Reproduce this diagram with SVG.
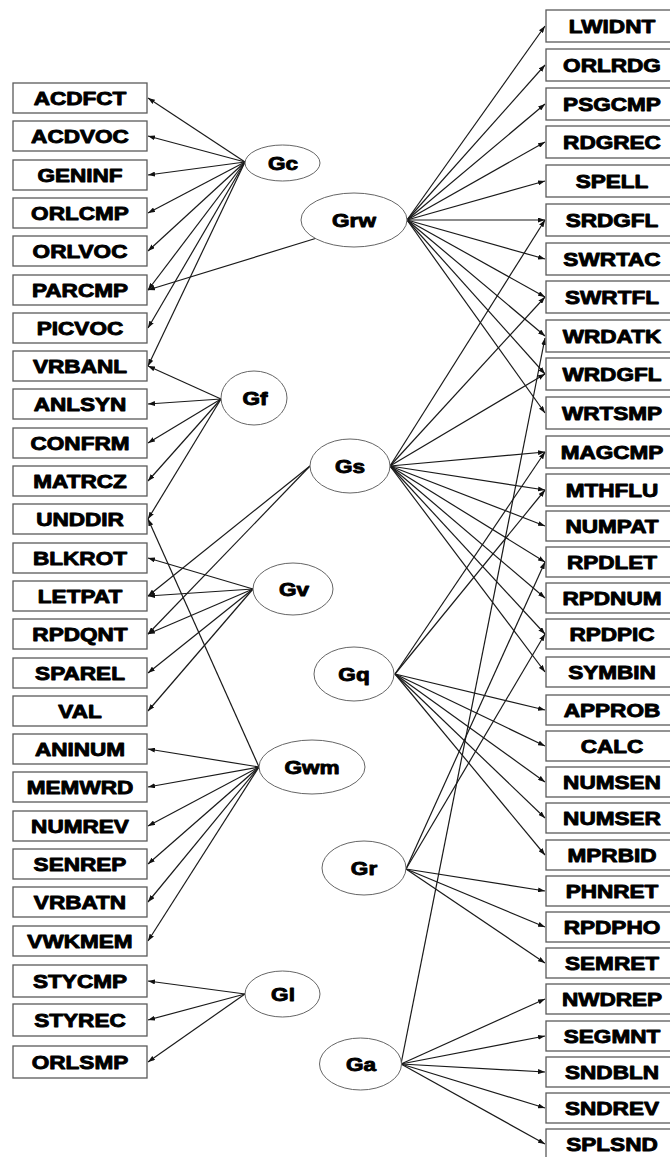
<svg xmlns="http://www.w3.org/2000/svg" width="670" height="1157" viewBox="0 0 670 1157">
<style>
.bx{fill:#fff;stroke:#5a5a5a;stroke-width:1.3}
.el{fill:#fff;stroke:#666;stroke-width:1}
.t{font-family:"Liberation Sans",Arial,sans-serif;font-weight:bold;font-size:18.5px;text-anchor:middle;fill:#000;stroke:#000;stroke-width:0.9;stroke-linejoin:round}
.c line{stroke:#1a1a1a;stroke-width:1.2;marker-end:url(#ah)}
</style>
<defs>
<marker id="ah" markerWidth="7" markerHeight="5" refX="7" refY="2.5" orient="auto" markerUnits="userSpaceOnUse"><path d="M0,0 L7,2.5 L0,5 z" fill="#111"/></marker>
</defs>
<rect width="670" height="1157" fill="#fff"/>
<g id="connectors" class="c">
<line x1="245" y1="162" x2="148" y2="98"/>
<line x1="245" y1="162" x2="148" y2="136"/>
<line x1="245" y1="162" x2="148" y2="175"/>
<line x1="245" y1="162" x2="148" y2="213"/>
<line x1="245" y1="162" x2="148" y2="251"/>
<line x1="245" y1="162" x2="148" y2="290"/>
<line x1="245" y1="162" x2="148" y2="328"/>
<line x1="245" y1="162" x2="148" y2="366"/>
<line x1="317" y1="238" x2="148" y2="290"/>
<line x1="221" y1="399" x2="148" y2="366"/>
<line x1="221" y1="399" x2="148" y2="404"/>
<line x1="221" y1="399" x2="148" y2="443"/>
<line x1="221" y1="399" x2="148" y2="481"/>
<line x1="221" y1="399" x2="148" y2="519"/>
<line x1="310" y1="466" x2="148" y2="596"/>
<line x1="310" y1="466" x2="148" y2="634"/>
<line x1="253" y1="589" x2="148" y2="558"/>
<line x1="253" y1="589" x2="148" y2="596"/>
<line x1="253" y1="589" x2="148" y2="634"/>
<line x1="253" y1="589" x2="148" y2="673"/>
<line x1="253" y1="589" x2="148" y2="711"/>
<line x1="259" y1="767" x2="148" y2="519"/>
<line x1="259" y1="767" x2="148" y2="749"/>
<line x1="259" y1="767" x2="148" y2="787"/>
<line x1="259" y1="767" x2="148" y2="826"/>
<line x1="259" y1="767" x2="148" y2="864"/>
<line x1="259" y1="767" x2="148" y2="902"/>
<line x1="259" y1="767" x2="148" y2="941"/>
<line x1="245" y1="994" x2="148" y2="981"/>
<line x1="245" y1="994" x2="148" y2="1020"/>
<line x1="245" y1="994" x2="148" y2="1062"/>
<line x1="407" y1="220" x2="545" y2="26"/>
<line x1="407" y1="220" x2="545" y2="65"/>
<line x1="407" y1="220" x2="545" y2="104"/>
<line x1="407" y1="220" x2="545" y2="142"/>
<line x1="407" y1="220" x2="545" y2="181"/>
<line x1="407" y1="220" x2="545" y2="220"/>
<line x1="407" y1="220" x2="545" y2="259"/>
<line x1="407" y1="220" x2="545" y2="297"/>
<line x1="407" y1="220" x2="545" y2="336"/>
<line x1="407" y1="220" x2="545" y2="374"/>
<line x1="407" y1="220" x2="545" y2="413"/>
<line x1="390" y1="466" x2="545" y2="220"/>
<line x1="390" y1="466" x2="545" y2="297"/>
<line x1="390" y1="466" x2="545" y2="374"/>
<line x1="390" y1="466" x2="545" y2="452"/>
<line x1="390" y1="466" x2="545" y2="490"/>
<line x1="390" y1="466" x2="545" y2="526"/>
<line x1="390" y1="466" x2="545" y2="562"/>
<line x1="390" y1="466" x2="545" y2="598"/>
<line x1="390" y1="466" x2="545" y2="634"/>
<line x1="390" y1="466" x2="545" y2="672"/>
<line x1="395" y1="674" x2="545" y2="452"/>
<line x1="395" y1="674" x2="545" y2="490"/>
<line x1="395" y1="674" x2="545" y2="710"/>
<line x1="395" y1="674" x2="545" y2="746"/>
<line x1="395" y1="674" x2="545" y2="782"/>
<line x1="395" y1="674" x2="545" y2="818"/>
<line x1="395" y1="674" x2="545" y2="855"/>
<line x1="406" y1="869" x2="545" y2="562"/>
<line x1="406" y1="869" x2="545" y2="634"/>
<line x1="406" y1="869" x2="545" y2="891"/>
<line x1="406" y1="869" x2="545" y2="927"/>
<line x1="406" y1="869" x2="545" y2="963"/>
<line x1="401" y1="1064" x2="545" y2="338"/>
<line x1="401" y1="1064" x2="545" y2="999"/>
<line x1="401" y1="1064" x2="545" y2="1036"/>
<line x1="401" y1="1064" x2="545" y2="1072"/>
<line x1="401" y1="1064" x2="545" y2="1108"/>
<line x1="401" y1="1064" x2="545" y2="1144"/>
</g>
<g id="n-ACDFCT"><rect class="bx" x="13" y="83" width="134" height="30"/><text class="t" transform="translate(80,104.7) scale(1.22,1)">ACDFCT</text></g>
<g id="n-ACDVOC"><rect class="bx" x="13" y="121" width="134" height="30"/><text class="t" transform="translate(80,142.7) scale(1.22,1)">ACDVOC</text></g>
<g id="n-GENINF"><rect class="bx" x="13" y="160" width="134" height="30"/><text class="t" transform="translate(80,181.7) scale(1.22,1)">GENINF</text></g>
<g id="n-ORLCMP"><rect class="bx" x="13" y="198" width="134" height="30"/><text class="t" transform="translate(80,219.7) scale(1.22,1)">ORLCMP</text></g>
<g id="n-ORLVOC"><rect class="bx" x="13" y="236" width="134" height="30"/><text class="t" transform="translate(80,257.7) scale(1.22,1)">ORLVOC</text></g>
<g id="n-PARCMP"><rect class="bx" x="13" y="275" width="134" height="30"/><text class="t" transform="translate(80,296.7) scale(1.22,1)">PARCMP</text></g>
<g id="n-PICVOC"><rect class="bx" x="13" y="313" width="134" height="30"/><text class="t" transform="translate(80,334.7) scale(1.22,1)">PICVOC</text></g>
<g id="n-VRBANL"><rect class="bx" x="13" y="351" width="134" height="30"/><text class="t" transform="translate(80,372.7) scale(1.22,1)">VRBANL</text></g>
<g id="n-ANLSYN"><rect class="bx" x="13" y="389" width="134" height="30"/><text class="t" transform="translate(80,410.7) scale(1.22,1)">ANLSYN</text></g>
<g id="n-CONFRM"><rect class="bx" x="13" y="428" width="134" height="30"/><text class="t" transform="translate(80,449.7) scale(1.22,1)">CONFRM</text></g>
<g id="n-MATRCZ"><rect class="bx" x="13" y="466" width="134" height="30"/><text class="t" transform="translate(80,487.7) scale(1.22,1)">MATRCZ</text></g>
<g id="n-UNDDIR"><rect class="bx" x="13" y="504" width="134" height="30"/><text class="t" transform="translate(80,525.7) scale(1.22,1)">UNDDIR</text></g>
<g id="n-BLKROT"><rect class="bx" x="13" y="543" width="134" height="30"/><text class="t" transform="translate(80,564.7) scale(1.22,1)">BLKROT</text></g>
<g id="n-LETPAT"><rect class="bx" x="13" y="581" width="134" height="30"/><text class="t" transform="translate(80,602.7) scale(1.22,1)">LETPAT</text></g>
<g id="n-RPDQNT"><rect class="bx" x="13" y="619" width="134" height="30"/><text class="t" transform="translate(80,640.7) scale(1.22,1)">RPDQNT</text></g>
<g id="n-SPAREL"><rect class="bx" x="13" y="658" width="134" height="30"/><text class="t" transform="translate(80,679.7) scale(1.22,1)">SPAREL</text></g>
<g id="n-VAL"><rect class="bx" x="13" y="696" width="134" height="30"/><text class="t" transform="translate(80,717.7) scale(1.22,1)">VAL</text></g>
<g id="n-ANINUM"><rect class="bx" x="13" y="734" width="134" height="30"/><text class="t" transform="translate(80,755.7) scale(1.22,1)">ANINUM</text></g>
<g id="n-MEMWRD"><rect class="bx" x="13" y="772" width="134" height="30"/><text class="t" transform="translate(80,793.7) scale(1.22,1)">MEMWRD</text></g>
<g id="n-NUMREV"><rect class="bx" x="13" y="811" width="134" height="30"/><text class="t" transform="translate(80,832.7) scale(1.22,1)">NUMREV</text></g>
<g id="n-SENREP"><rect class="bx" x="13" y="849" width="134" height="30"/><text class="t" transform="translate(80,870.7) scale(1.22,1)">SENREP</text></g>
<g id="n-VRBATN"><rect class="bx" x="13" y="887" width="134" height="30"/><text class="t" transform="translate(80,908.7) scale(1.22,1)">VRBATN</text></g>
<g id="n-VWKMEM"><rect class="bx" x="13" y="926" width="134" height="30"/><text class="t" transform="translate(80,947.7) scale(1.22,1)">VWKMEM</text></g>
<g id="n-STYCMP"><rect class="bx" x="13" y="965" width="134" height="32"/><text class="t" transform="translate(80,987.7) scale(1.22,1)">STYCMP</text></g>
<g id="n-STYREC"><rect class="bx" x="13" y="1004" width="134" height="32"/><text class="t" transform="translate(80,1026.7) scale(1.22,1)">STYREC</text></g>
<g id="n-ORLSMP"><rect class="bx" x="13" y="1046" width="134" height="32"/><text class="t" transform="translate(80,1068.7) scale(1.22,1)">ORLSMP</text></g>
<g id="n-LWIDNT"><rect class="bx" x="546" y="10" width="130" height="32"/><text class="t" transform="translate(612,32.7) scale(1.22,1)">LWIDNT</text></g>
<g id="n-ORLRDG"><rect class="bx" x="546" y="49" width="130" height="32"/><text class="t" transform="translate(612,71.7) scale(1.22,1)">ORLRDG</text></g>
<g id="n-PSGCMP"><rect class="bx" x="546" y="88" width="130" height="32"/><text class="t" transform="translate(612,110.7) scale(1.22,1)">PSGCMP</text></g>
<g id="n-RDGREC"><rect class="bx" x="546" y="126" width="130" height="32"/><text class="t" transform="translate(612,148.7) scale(1.22,1)">RDGREC</text></g>
<g id="n-SPELL"><rect class="bx" x="546" y="165" width="130" height="32"/><text class="t" transform="translate(612,187.7) scale(1.22,1)">SPELL</text></g>
<g id="n-SRDGFL"><rect class="bx" x="546" y="204" width="130" height="32"/><text class="t" transform="translate(612,226.7) scale(1.22,1)">SRDGFL</text></g>
<g id="n-SWRTAC"><rect class="bx" x="546" y="243" width="130" height="32"/><text class="t" transform="translate(612,265.7) scale(1.22,1)">SWRTAC</text></g>
<g id="n-SWRTFL"><rect class="bx" x="546" y="281" width="130" height="32"/><text class="t" transform="translate(612,303.7) scale(1.22,1)">SWRTFL</text></g>
<g id="n-WRDATK"><rect class="bx" x="546" y="320" width="130" height="32"/><text class="t" transform="translate(612,342.7) scale(1.22,1)">WRDATK</text></g>
<g id="n-WRDGFL"><rect class="bx" x="546" y="358" width="130" height="32"/><text class="t" transform="translate(612,380.7) scale(1.22,1)">WRDGFL</text></g>
<g id="n-WRTSMP"><rect class="bx" x="546" y="397" width="130" height="32"/><text class="t" transform="translate(612,419.7) scale(1.22,1)">WRTSMP</text></g>
<g id="n-MAGCMP"><rect class="bx" x="546" y="436" width="130" height="32"/><text class="t" transform="translate(612,458.7) scale(1.22,1)">MAGCMP</text></g>
<g id="n-MTHFLU"><rect class="bx" x="546" y="474" width="130" height="32"/><text class="t" transform="translate(612,496.7) scale(1.22,1)">MTHFLU</text></g>
<g id="n-NUMPAT"><rect class="bx" x="546" y="511" width="130" height="30"/><text class="t" transform="translate(612,532.7) scale(1.22,1)">NUMPAT</text></g>
<g id="n-RPDLET"><rect class="bx" x="546" y="547" width="130" height="30"/><text class="t" transform="translate(612,568.7) scale(1.22,1)">RPDLET</text></g>
<g id="n-RPDNUM"><rect class="bx" x="546" y="583" width="130" height="30"/><text class="t" transform="translate(612,604.7) scale(1.22,1)">RPDNUM</text></g>
<g id="n-RPDPIC"><rect class="bx" x="546" y="619" width="130" height="30"/><text class="t" transform="translate(612,640.7) scale(1.22,1)">RPDPIC</text></g>
<g id="n-SYMBIN"><rect class="bx" x="546" y="657" width="130" height="30"/><text class="t" transform="translate(612,678.7) scale(1.22,1)">SYMBIN</text></g>
<g id="n-APPROB"><rect class="bx" x="546" y="695" width="130" height="30"/><text class="t" transform="translate(612,716.7) scale(1.22,1)">APPROB</text></g>
<g id="n-CALC"><rect class="bx" x="546" y="731" width="130" height="30"/><text class="t" transform="translate(612,752.7) scale(1.22,1)">CALC</text></g>
<g id="n-NUMSEN"><rect class="bx" x="546" y="767" width="130" height="30"/><text class="t" transform="translate(612,788.7) scale(1.22,1)">NUMSEN</text></g>
<g id="n-NUMSER"><rect class="bx" x="546" y="803" width="130" height="30"/><text class="t" transform="translate(612,824.7) scale(1.22,1)">NUMSER</text></g>
<g id="n-MPRBID"><rect class="bx" x="546" y="840" width="130" height="30"/><text class="t" transform="translate(612,861.7) scale(1.22,1)">MPRBID</text></g>
<g id="n-PHNRET"><rect class="bx" x="546" y="876" width="130" height="30"/><text class="t" transform="translate(612,897.7) scale(1.22,1)">PHNRET</text></g>
<g id="n-RPDPHO"><rect class="bx" x="546" y="912" width="130" height="30"/><text class="t" transform="translate(612,933.7) scale(1.22,1)">RPDPHO</text></g>
<g id="n-SEMRET"><rect class="bx" x="546" y="948" width="130" height="30"/><text class="t" transform="translate(612,969.7) scale(1.22,1)">SEMRET</text></g>
<g id="n-NWDREP"><rect class="bx" x="546" y="984" width="130" height="30"/><text class="t" transform="translate(612,1005.7) scale(1.22,1)">NWDREP</text></g>
<g id="n-SEGMNT"><rect class="bx" x="546" y="1021" width="130" height="30"/><text class="t" transform="translate(612,1042.7) scale(1.22,1)">SEGMNT</text></g>
<g id="n-SNDBLN"><rect class="bx" x="546" y="1057" width="130" height="30"/><text class="t" transform="translate(612,1078.7) scale(1.22,1)">SNDBLN</text></g>
<g id="n-SNDREV"><rect class="bx" x="546" y="1093" width="130" height="30"/><text class="t" transform="translate(612,1114.7) scale(1.22,1)">SNDREV</text></g>
<g id="n-SPLSND"><rect class="bx" x="546" y="1129" width="130" height="30"/><text class="t" transform="translate(612,1150.7) scale(1.22,1)">SPLSND</text></g>
<g id="n-Gc"><ellipse class="el" cx="282.5" cy="163" rx="37.5" ry="18"/><text class="t" transform="translate(283,169.7) scale(1.22,1)">Gc</text></g>
<g id="n-Grw"><ellipse class="el" cx="354" cy="220" rx="53" ry="27"/><text class="t" transform="translate(354,226.7) scale(1.22,1)">Grw</text></g>
<g id="n-Gf"><ellipse class="el" cx="254" cy="398" rx="33" ry="27"/><text class="t" transform="translate(255,404.7) scale(1.22,1)">Gf</text></g>
<g id="n-Gs"><ellipse class="el" cx="350" cy="466" rx="40" ry="27"/><text class="t" transform="translate(350,472.7) scale(1.22,1)">Gs</text></g>
<g id="n-Gv"><ellipse class="el" cx="293" cy="589" rx="40" ry="26"/><text class="t" transform="translate(294,595.7) scale(1.22,1)">Gv</text></g>
<g id="n-Gq"><ellipse class="el" cx="354" cy="674" rx="40" ry="27"/><text class="t" transform="translate(354,680.7) scale(1.22,1)">Gq</text></g>
<g id="n-Gwm"><ellipse class="el" cx="312" cy="767" rx="53" ry="27"/><text class="t" transform="translate(312,773.7) scale(1.22,1)">Gwm</text></g>
<g id="n-Gr"><ellipse class="el" cx="364" cy="868" rx="42" ry="27"/><text class="t" transform="translate(364,874.7) scale(1.22,1)">Gr</text></g>
<g id="n-Gl"><ellipse class="el" cx="282.5" cy="994" rx="37.5" ry="23"/><text class="t" transform="translate(283,1000.7) scale(1.22,1)">Gl</text></g>
<g id="n-Ga"><ellipse class="el" cx="360.5" cy="1064" rx="41" ry="26"/><text class="t" transform="translate(361,1070.7) scale(1.22,1)">Ga</text></g>
</svg>
